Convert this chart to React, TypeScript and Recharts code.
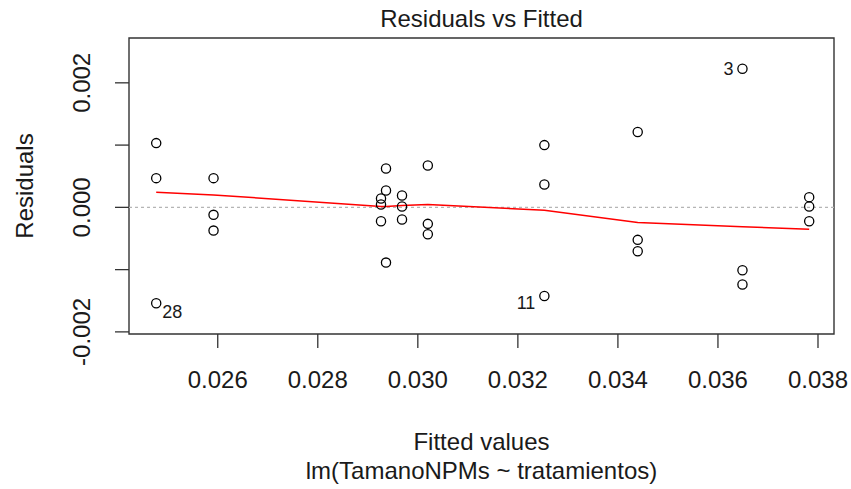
import { ScatterChart, Scatter, XAxis, YAxis, ReferenceLine, ReferenceArea } from 'recharts';

const FONT = '"Liberation Sans", Arial, Helvetica, sans-serif';
const INK = '#1a1a1a';

// fitted value of each treatment group (lm on a factor -> one value per group)
const fitted = [0.02477, 0.025916, 0.029264, 0.029364, 0.029684, 0.0302, 0.03253, 0.034396, 0.03649, 0.037824];

// residuals of the three replicates in each group
const residuals = [
  [0.001032, 0.000469, -0.00154],
  [0.000469, -0.00012, -0.000373],
  [0.000142, 0.000045, -0.000222],
  [0.000624, 0.00027, -0.000887],
  [0.00019, 0.000013, -0.000196],
  [0.000672, -0.000265, -0.000431],
  [0.001, 0.000367, -0.001423],
  [0.00121, -0.000522, -0.000704],
  [0.002227, -0.00101, -0.00124],
  [0.000164, 0.000013, -0.000222],
];

// lowess smooth evaluated at each fitted value
const lowessFit = [0.000244, 0.0002, 0.000013, 0.000013, 0.00003, 0.000045, -0.000045, -0.000244, -0.00031, -0.00035];

const xTicks = [0.026, 0.028, 0.03, 0.032, 0.034, 0.036, 0.038];
const yTicks = [-0.002, -0.001, 0, 0.001, 0.002];
const yLabelled = [-0.002, 0, 0.002];

// observations flagged with their row number
const outliers = [
  { group: 0, member: 2, id: '28' },
  { group: 6, member: 2, id: '11' },
  { group: 8, member: 0, id: '3' },
];

const X_DOMAIN: [number, number] = [0.024226, 0.03832];
const Y_DOMAIN: [number, number] = [-0.002034, 0.00272];

const points = fitted.flatMap((f, g) =>
  residuals[g].map((r, m) => ({
    x: f,
    y: r,
    id: outliers.find((o) => o.group === g && o.member === m)?.id,
  })),
);
const smooth = fitted.map((f, i) => ({ x: f, y: lowessFit[i] }));

const idPlacement: Record<string, { dx: number; dy: number; anchor: 'start' | 'end' }> = {
  '28': { dx: 6, dy: 15, anchor: 'start' },
  '11': { dx: -9, dy: 13, anchor: 'end' },
  '3': { dx: -9, dy: 6, anchor: 'end' },
};

function Ring(props: any) {
  const { cx, cy, payload } = props;
  const p = payload?.id ? idPlacement[payload.id] : null;
  return (
    <g>
      <circle cx={cx} cy={cy} r={4.6} fill="none" stroke="#000" strokeWidth={1.3} />
      {p && (
        <text x={cx + p.dx} y={cy + p.dy} textAnchor={p.anchor} fontSize={18} fontFamily={FONT} fill={INK}>
          {payload.id}
        </text>
      )}
    </g>
  );
}

function XTick({ x, y, payload }: any) {
  return (
    <text x={x} y={y + 38} textAnchor="middle" fontSize={24} fontFamily={FONT} fill={INK}>
      {Number(payload.value).toFixed(3)}
    </text>
  );
}

function YTick({ x, y, payload }: any) {
  const v = Number(payload.value);
  if (!yLabelled.some((t) => Math.abs(t - v) < 1e-9)) return <g />;
  const tx = x - 23;
  return (
    <text
      x={tx}
      y={y}
      textAnchor="middle"
      fontSize={24}
      fontFamily={FONT}
      fill={INK}
      transform={`rotate(-90, ${tx}, ${y})`}
    >
      {v.toFixed(3)}
    </text>
  );
}

export default function App() {
  return (
    <div style={{ position: 'absolute', left: 0, top: 0, width: 851, height: 489, background: '#fff' }}>
      <ScatterChart width={851} height={489} margin={{ top: 38, right: 17, bottom: 0, left: 0 }}>
        <XAxis
          type="number"
          dataKey="x"
          domain={X_DOMAIN}
          ticks={xTicks}
          allowDataOverflow
          axisLine={false}
          tickSize={14}
          tickLine={{ stroke: '#333', strokeWidth: 1.3 }}
          height={155}
          tick={<XTick />}
        />
        <YAxis
          type="number"
          dataKey="y"
          domain={Y_DOMAIN}
          ticks={yTicks}
          allowDataOverflow
          axisLine={false}
          tickSize={14}
          tickLine={{ stroke: '#333', strokeWidth: 1.3 }}
          width={129}
          tick={<YTick />}
        />
        <ReferenceArea
          x1={X_DOMAIN[0]}
          x2={X_DOMAIN[1]}
          y1={Y_DOMAIN[0]}
          y2={Y_DOMAIN[1]}
          fill="none"
          stroke="#333"
          strokeWidth={1.4}
          ifOverflow="visible"
        />
        <ReferenceLine y={0} stroke="#b5b5b5" strokeWidth={1.3} strokeDasharray="3 3" />
        <Scatter
          data={smooth}
          line={{ stroke: '#ff0000', strokeWidth: 1.5 }}
          lineJointType="linear"
          shape={() => <g />}
          isAnimationActive={false}
        />
        <Scatter data={points} shape={<Ring />} isAnimationActive={false} />
      </ScatterChart>
      <svg width={851} height={489} style={{ position: 'absolute', left: 0, top: 0, pointerEvents: 'none' }}>
        <text x={481.5} y={27} textAnchor="middle" fontSize={24} fontFamily={FONT} fill={INK}>
          Residuals vs Fitted
        </text>
        <text x={481.5} y={450} textAnchor="middle" fontSize={24} fontFamily={FONT} fill={INK}>
          Fitted values
        </text>
        <text x={481.5} y={479} textAnchor="middle" fontSize={24} fontFamily={FONT} fill={INK}>
          lm(TamanoNPMs ~ tratamientos)
        </text>
        <text
          x={33}
          y={186}
          textAnchor="middle"
          fontSize={24}
          fontFamily={FONT}
          fill={INK}
          transform="rotate(-90, 33, 186)"
        >
          Residuals
        </text>
      </svg>
    </div>
  );
}
